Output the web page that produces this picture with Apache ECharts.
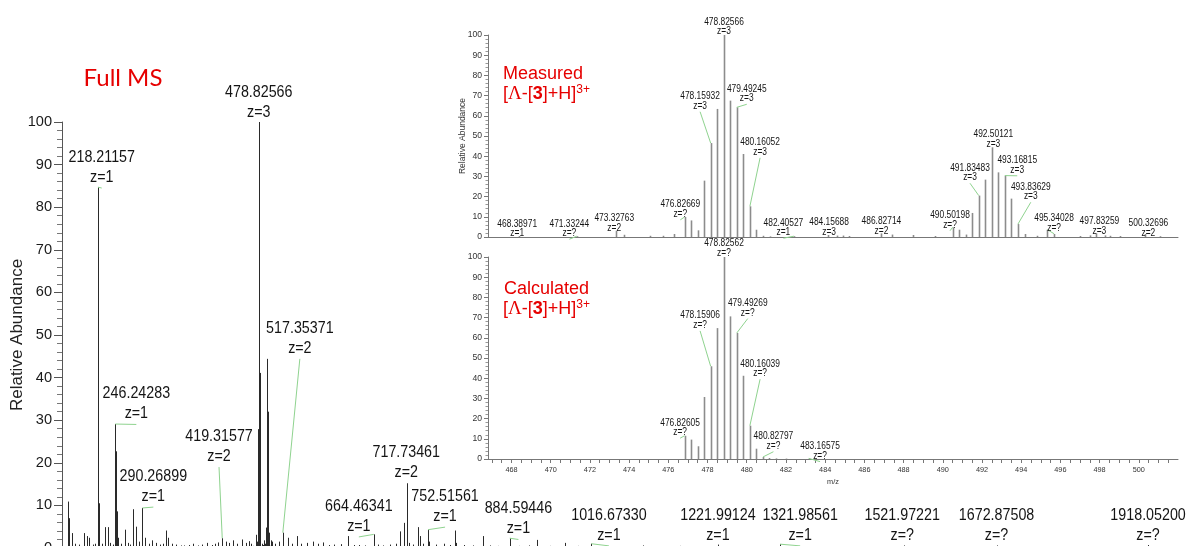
<!DOCTYPE html>
<html><head><meta charset="utf-8">
<script src="https://cdn.jsdelivr.net/npm/echarts@6/dist/echarts.min.js"></script>
<style>html,body{margin:0;padding:0;background:#fff}#c{width:1198px;height:546px}</style>
</head><body><div id="c"></div>
<script>
// ---------- DATA ----------
// Full MS spectrum (measured), m/z and relative abundance (%)
const fullMz = [170.2,172.1,175.7,176.7,181.0,188.0,195.6,201.0,204.2,210.0,214.0,218.21,218.7,220.4,224.5,229.6,234.0,238.0,242.0,246.24,247.24,248.24,251.1,256.0,262.0,266.0,270.0,275.4,279.3,284.0,290.27,294.6,300.0,305.2,312.0,318.0,323.0,328.3,332.1,338.0,345.0,352.0,358.0,365.0,372.0,380.0,386.0,395.0,402.0,408.0,413.0,419.32,425.0,431.0,437.0,444.0,451.0,458.0,463.0,465.5,
468.39,471.33,473.33,473.75,475.07,475.74,476.29,476.827,477.16,477.49,477.83,478.159,478.49,478.826,479.16,479.492,479.83,480.161,480.49,480.83,481.2,482.405,484.157,484.59,484.9,485.23,486.827,487.4,488.47,489.6,
490.502,490.83,491.17,491.50,491.835,492.17,492.501,492.83,493.168,493.50,493.836,494.17,494.8,495.34,495.67,497.0,497.5,497.833,498.28,498.53,499.04,500.327,501.1,
505,511,517.354,526.4,532,539.9,547,556,566,575,583,592,600,611,622.4,632,640,650,664.463,672,680,690,700,707.1,714.2,717.735,718.23,718.73,722,728,736.7,739.5,745,752.516,753.5,765,778,788,796.1,797.1,810,825,841,852,866,884.594,900,915,928.3,950,974,995,1016.673,1040,1100,1160,1221.991,1280,1321.986,1400,1521.972,1600,1672.875,1800,1918.052];
const fullAb = [10.9,7.0,3.5,3.3,1.0,0.8,3.5,2.8,2.4,0.8,1.0,84.7,56.3,10.5,1.0,4.9,4.9,1.2,0.8,29.1,22.7,8.6,2.4,1.0,4.3,1.2,0.8,9.1,5.0,1.5,9.4,2.4,1.0,1.8,1.2,0.8,1.0,4.1,2.4,1.0,0.8,0.6,0.6,0.7,1.0,0.6,0.8,1.2,0.7,1.0,1.3,2.3,1.5,1.2,1.8,1.0,2.0,1.2,1.6,1.0,
0.5,0.4,3.1,1.1,0.6,0.6,1.5,9.9,8.2,3.3,27.9,46.5,63.4,100,67.5,64.2,41.1,15.2,3.6,0.6,0.3,0.4,1.0,0.7,0.7,0.5,1.8,1.2,1.0,0.5,
4.8,3.6,1.2,11.9,20.5,28.4,44.4,32.0,30.4,19.0,6.4,1.5,0.6,3.6,1.5,0.5,0.8,1.8,0.8,0.6,0.5,1.5,0.4,
1.0,1.5,3.6,2.4,1.0,2.8,1.0,1.2,1.5,1.0,1.3,0.7,0.8,0.9,2.8,0.7,0.7,0.6,3.2,0.8,0.6,0.8,1.0,3.9,5.9,15.2,8.9,4.0,1.2,0.8,4.9,2.8,1.0,4.3,1.5,0.8,1.0,0.7,4.1,1.2,0.7,0.6,2.8,0.6,0.5,2.3,0.5,0.6,1.9,0.5,1.2,0.5,1.0,0.5,0.6,0.5,0.8,0.4,0.9,0.4,0.6,0.3,0.6,0.3,0.7];

// Calculated isotope pattern
const calcMz = [476.826,477.16,477.49,477.83,478.159,478.49,478.826,479.16,479.493,479.83,480.160,480.49,480.828,481.16,481.5,482.0,483.166];
const calcAb = [11.5,9.6,6.3,30.7,45.9,64.8,100,70.6,62.4,41.2,16.5,5.1,1.0,0.5,0.3,0.2,0.3];

// Y tick labels / X tick labels
const yTicks = [0,10,20,30,40,50,60,70,80,90,100];
const insetXTicks = [468,470,472,474,476,478,480,482,484,486,488,490,492,494,496,498,500];

// Peak annotations (text)
const mainAnnotText = [['218.21157','z=1'],['478.82566','z=3'],['246.24283','z=1'],['290.26899','z=1'],['419.31577','z=2'],['517.35371','z=2'],['664.46341','z=1'],['717.73461','z=2'],['752.51561','z=1'],['884.59446','z=1'],['1016.67330','z=1'],['1221.99124','z=1'],['1321.98561','z=1'],['1521.97221','z=?'],['1672.87508','z=?'],['1918.05200','z=?']];
const measAnnotText = [['468.38971','z=1'],['471.33244','z=?'],['473.32763','z=2'],['476.82669','z=?'],['478.15932','z=3'],['478.82566','z=3'],['479.49245','z=3'],['480.16052','z=3'],['482.40527','z=1'],['484.15688','z=3'],['486.82714','z=2'],['490.50198','z=?'],['491.83483','z=3'],['492.50121','z=3'],['493.16815','z=3'],['493.83629','z=3'],['495.34028','z=?'],['497.83259','z=3'],['500.32696','z=2']];
const calcAnnotText = [['478.82562','z=?'],['478.15906','z=?'],['479.49269','z=?'],['480.16039','z=?'],['476.82605','z=?'],['480.82797','z=?'],['483.16575','z=?']];

// ---------- LAYOUT (annotation anchors in axis units: [m/z, abundance, leaderLine]) ----------
const mainAnnotPos = [[224.3,84.5,1],[478.4,99.8,0],[280.3,29.0,1],[307.8,9.6,1],[414.1,19.0,1],[544.9,44.4,1],[640.4,2.6,1],[717.1,15.2,0],[779.9,4.9,1],[898.6,2.0,1],[1045.1,0.5,1],[1221.5,0.5,0],[1354.6,0.5,1],[1519.7,0.5,0],[1672.4,0.5,0],[1917.6,0.5,0]];
const measAnnotPos = [[468.29,-1.1,0],[470.95,-1.1,1],[473.24,1.6,0],[476.61,8.5,1],[477.62,62,1],[478.84,98.9,0],[480.0,65.7,1],[480.68,39.2,1],[481.87,-0.6,1],[484.2,-0.4,0],[486.87,0.1,0],[490.37,3.1,1],[491.39,26.6,1],[492.58,43.2,0],[493.8,30.3,1],[494.49,17.2,1],[495.68,1.6,1],[497.99,0.1,0],[500.49,-0.9,0]];
const calcAnnotPos = [[478.84,99.1,0],[477.62,63.4,1],[480.05,69.5,1],[480.68,39.5,1],[476.6,10.3,1],[481.36,3.6,1],[483.74,-1.3,1]];

// ---------- FONTS ----------
function hasFont(name){
  const c = document.createElement('canvas').getContext('2d');
  const s = '478.82566 abcXYZ';
  c.font = '20px monospace'; const w0 = c.measureText(s).width;
  c.font = '20px "' + name + '", monospace'; return c.measureText(s).width !== w0;
}
const NARROW = hasFont('Liberation Sans Narrow');
const numFam = NARROW ? '"Liberation Sans Narrow"' : '"Liberation Sans"';
const numScale = NARROW ? 1 : 0.84;
const fs = v => NARROW ? v : Math.round(v * 0.86 * 10) / 10;

const RED = '#e60000';
const LEADER = '#8fd38f';
const INSET_MIN = 466.8, INSET_MAX = 502;

function nearestPeak(mzArr, abArr, target){
  let bi = 0, bd = Infinity;
  for (let i = 0; i < mzArr.length; i++){ const d = Math.abs(mzArr[i] - target); if (d < bd){ bd = d; bi = i; } }
  return [mzArr[bi], abArr[bi]];
}
function pairs(mz, ab, lo, hi){
  const out = [];
  for (let i = 0; i < mz.length; i++) if (mz[i] >= lo && mz[i] <= hi) out.push([mz[i], ab[i]]);
  return out;
}
function annotData(texts, pos, mz, ab){
  return texts.map((t, i) => { const p = nearestPeak(mz, ab, parseFloat(t[0])); return [pos[i][0], pos[i][1], p[0], p[1], pos[i][2]]; });
}
function stickRenderer(color, w){
  return function(params, api){
    const b = api.coord([api.value(0), 0]);
    const t = api.coord([api.value(0), api.value(1)]);
    const x = Math.round(b[0]) + 0.5;
    return {type:'line', shape:{x1:x, y1:b[1], x2:x, y2:t[1]}, style:{stroke:color, lineWidth:w}};
  };
}
function labelRenderer(texts, size, lineH){
  return function(params, api){
    const i = params.dataIndex;
    const a = api.coord([api.value(0), api.value(1)]);
    const p = api.coord([api.value(2), api.value(3)]);
    const ch = [];
    if (api.value(4)) ch.push({type:'line', shape:{x1:p[0], y1:p[1], x2:a[0], y2:a[1]}, style:{stroke:LEADER, lineWidth:1}});
    ch.push({type:'text', x:a[0], y:a[1] - 1, scaleX:numScale,
      style:{text: texts[i][0] + '\n' + texts[i][1], x:0, y:0, align:'center', verticalAlign:'bottom',
        fontSize:size, fontFamily:numFam, lineHeight:lineH, fill:'#141414'}});
    return {type:'group', children:ch};
  };
}

const chart = echarts.init(document.getElementById('c'), null, {renderer:'canvas'});

const insetY = (gi, withName) => ({
  gridIndex: gi, type:'value', min:0, max:100, interval:10,
  axisLine:{show:true, lineStyle:{color:'#777', width:1}},
  axisTick:{show:true, length:4, lineStyle:{color:'#777'}},
  minorTick:{show:true, splitNumber:5, length:2.5, lineStyle:{color:'#999'}},
  splitLine:{show:false},
  axisLabel:{fontSize:fs(10), fontFamily:numFam, color:'#333', margin:6, customValues: yTicks},
  name: withName ? 'Relative Abundance' : '', nameLocation:'middle', nameGap:21, nameRotate:90, nameMoveOverlap:false,
  nameTextStyle:{fontSize:8.5, fontFamily:'Liberation Sans', color:'#333'}
});

const formulaRich = {
  n:{fontSize:18, fontFamily:'Liberation Sans', fill:RED},
  g:{fontSize:19, fontFamily:'Liberation Serif', fill:RED},
  b:{fontSize:18, fontWeight:'bold', fontFamily:'Liberation Sans', fill:RED},
  s:{fontSize:12, fontFamily:'Liberation Sans', fill:RED, padding:[0,0,9,0]}
};
const formulaText = '{n|[}{g|Λ}{n|-[}{b|3}{n|]+H]}{s|3+}';

const option = {
  animation:false,
  backgroundColor:'#fff',
  grid:[
    {left:62, top:122, width:1137, height:426, outerBoundsMode:'none', containLabel:false},
    {left:488, top:35, width:690, height:202, outerBoundsMode:'none', containLabel:false},
    {left:488, top:257, width:690, height:202, outerBoundsMode:'none', containLabel:false}
  ],
  xAxis:[
    {gridIndex:0, type:'value', min:160, max:2000, axisLine:{show:true, lineStyle:{color:'#333'}}, axisTick:{show:false}, axisLabel:{show:false}, splitLine:{show:false}},
    {gridIndex:1, type:'value', min:INSET_MIN, max:INSET_MAX, axisLine:{show:true, onZero:false, lineStyle:{color:'#777'}}, axisTick:{show:false}, axisLabel:{show:false}, splitLine:{show:false}},
    {gridIndex:2, type:'value', min:INSET_MIN, max:INSET_MAX, axisLine:{show:true, onZero:false, lineStyle:{color:'#777'}},
      axisTick:{show:true, length:4, lineStyle:{color:'#777'}, customValues: (() => { const a=[]; for (let v=467; v<=501.5; v+=0.5) a.push(v); return a; })()},
      axisLabel:{show:true, fontSize:fs(8.5), fontFamily:numFam, color:'#333', margin:7, customValues: insetXTicks},
      splitLine:{show:false},
      name:'m/z', nameLocation:'middle', nameGap:19, nameMoveOverlap:false, nameTextStyle:{fontSize:fs(8.5), fontFamily:numFam, color:'#333'}}
  ],
  yAxis:[
    {gridIndex:0, type:'value', min:0, max:100, interval:10,
      axisLine:{show:true, lineStyle:{color:'#555', width:1}},
      axisTick:{show:true, length:8, lineStyle:{color:'#555'}},
      minorTick:{show:true, splitNumber:5, length:5, lineStyle:{color:'#777'}},
      splitLine:{show:false},
      axisLabel:{fontSize:fs(17), fontFamily:numFam, color:'#1a1a1a', margin:10, customValues: yTicks},
      name:'Relative Abundance', nameLocation:'middle', nameGap:36, nameRotate:90, nameMoveOverlap:false,
      nameTextStyle:{fontSize:17, fontFamily:'Liberation Sans', color:'#222'}},
    insetY(1, true),
    insetY(2, false)
  ],
  graphic:[
    {type:'text', x:123, y:78, style:{text:'Full MS', align:'center', verticalAlign:'middle', fontSize:24, fontFamily:'Lato', fill:RED}},
    {type:'text', x:503, y:74, style:{text:'Measured', align:'left', verticalAlign:'middle', fontSize:18, fontFamily:'Liberation Sans', fill:RED}},
    {type:'text', x:503, y:94, style:{text:formulaText, align:'left', verticalAlign:'middle', fill:RED, rich:formulaRich}},
    {type:'text', x:504, y:289, style:{text:'Calculated', align:'left', verticalAlign:'middle', fontSize:18, fontFamily:'Liberation Sans', fill:RED}},
    {type:'text', x:503, y:309, style:{text:formulaText, align:'left', verticalAlign:'middle', fill:RED, rich:formulaRich}}
  ],
  series:[
    {type:'custom', name:'Full MS', xAxisIndex:0, yAxisIndex:0, silent:true, renderItem:stickRenderer('#2a2a2a', 1),
      data: pairs(fullMz, fullAb, 160, 2000), encode:{x:0, y:1}},
    {type:'custom', name:'Measured', xAxisIndex:1, yAxisIndex:1, silent:true, renderItem:stickRenderer('#8c8c8c', 1.6),
      data: pairs(fullMz, fullAb, INSET_MIN, INSET_MAX), encode:{x:0, y:1}},
    {type:'custom', name:'Calculated', xAxisIndex:2, yAxisIndex:2, silent:true, renderItem:stickRenderer('#8c8c8c', 1.6),
      data: pairs(calcMz, calcAb, INSET_MIN, INSET_MAX), encode:{x:0, y:1}},
    {type:'custom', xAxisIndex:0, yAxisIndex:0, silent:true, renderItem:labelRenderer(mainAnnotText, 17, 20),
      data: annotData(mainAnnotText, mainAnnotPos, fullMz, fullAb), encode:{x:0, y:1}},
    {type:'custom', xAxisIndex:1, yAxisIndex:1, silent:true, renderItem:labelRenderer(measAnnotText, 10, 9.5),
      data: annotData(measAnnotText, measAnnotPos, fullMz, fullAb), encode:{x:0, y:1}},
    {type:'custom', xAxisIndex:2, yAxisIndex:2, silent:true, renderItem:labelRenderer(calcAnnotText, 10, 9.5),
      data: annotData(calcAnnotText, calcAnnotPos, calcMz, calcAb), encode:{x:0, y:1}}
  ]
};
chart.setOption(option);
</script>
</body></html>
